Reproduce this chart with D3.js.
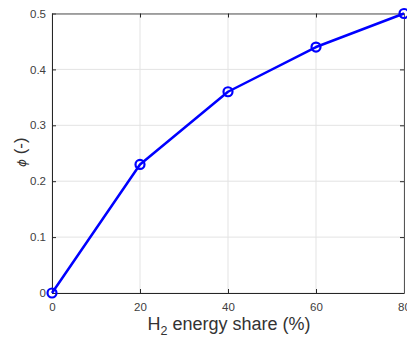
<!DOCTYPE html>
<html>
<head>
<meta charset="utf-8">
<script src="https://cdn.jsdelivr.net/npm/d3@7"></script>
<style>
  body { margin: 0; background: #fff; }
  svg { display: block; font-family: Helvetica, Arial, "Liberation Sans", sans-serif; }
</style>
</head>
<body>
<svg id="chart" width="407" height="338"></svg>
<script>
let WIDTH = 407, HEIGHT = 338;
let M = { top: 13.5, right: 3, bottom: 45, left: 52 };

// data
let shares = [0, 20, 40, 60, 80];
let phi = [0, 0.23, 0.36, 0.44, 0.5];
let xTicks = [0, 20, 40, 60, 80];
let yTicks = [0, 0.1, 0.2, 0.3, 0.4, 0.5];

let svg = d3.select("#chart");
let plotW = WIDTH - M.left - M.right;
let plotH = HEIGHT - M.top - M.bottom;

let x = d3.scaleLinear().domain([0, 80]).range([M.left, M.left + plotW]);
let y = d3.scaleLinear().domain([0, 0.5]).range([M.top + plotH, M.top]);

// grid
let grid = svg.append("g").attr("stroke", "#e3e3e3").attr("stroke-width", 1);
grid.selectAll("line.gx").data(xTicks).join("line")
    .attr("class", "gx")
    .attr("x1", d => x(d)).attr("x2", d => x(d))
    .attr("y1", M.top).attr("y2", M.top + plotH);
grid.selectAll("line.gy").data(yTicks).join("line")
    .attr("class", "gy")
    .attr("y1", d => y(d)).attr("y2", d => y(d))
    .attr("x1", M.left).attr("x2", M.left + plotW);

// box + axes (inward ticks, matlab style)
let axisColor = "#262626";
let axBottom = svg.append("g").attr("transform", `translate(0,${M.top + plotH})`)
    .call(d3.axisBottom(x).tickValues(xTicks).tickSizeInner(-4).tickSizeOuter(0).tickPadding(10));
let axLeft = svg.append("g").attr("transform", `translate(${M.left},0)`)
    .call(d3.axisLeft(y).tickValues(yTicks).tickFormat(d => d === 0 ? "0" : d3.format(".1f")(d))
        .tickSizeInner(-4).tickSizeOuter(0).tickPadding(6));
let axTop = svg.append("g").attr("transform", `translate(0,${M.top})`)
    .call(d3.axisTop(x).tickValues(xTicks).tickFormat("").tickSizeInner(-4).tickSizeOuter(0));
let axRight = svg.append("g").attr("transform", `translate(${M.left + plotW},0)`)
    .call(d3.axisRight(y).tickValues(yTicks).tickFormat("").tickSizeInner(-4).tickSizeOuter(0));

[axBottom, axLeft, axTop, axRight].forEach(g => {
    g.selectAll("path, line").attr("stroke", axisColor).attr("stroke-width", 1);
    g.selectAll("text").attr("fill", "#404040").attr("font-size", 11.5)
        .attr("font-family", "Helvetica, Arial, 'Liberation Sans', sans-serif");
});
axTop.select("path").attr("stroke", "#555");
axRight.select("path").attr("stroke", "#555");

// line + markers
let pts = shares.map((s, i) => ({ s: s, v: phi[i] }));
svg.append("path").datum(pts)
    .attr("fill", "none").attr("stroke", "#0000ff").attr("stroke-width", 2.5)
    .attr("stroke-linejoin", "round")
    .attr("d", d3.line().x(d => x(d.s)).y(d => y(d.v)));
svg.selectAll("circle.mk").data(pts).join("circle")
    .attr("class", "mk")
    .attr("cx", d => x(d.s)).attr("cy", d => y(d.v)).attr("r", 4.5)
    .attr("fill", "none").attr("stroke", "#0000ff").attr("stroke-width", 2.2);

// labels
let xl = svg.append("text")
    .attr("x", M.left + plotW / 2 + 1).attr("y", HEIGHT - 8)
    .attr("text-anchor", "middle").attr("font-size", 18).attr("fill", "#333");
xl.append("tspan").text("H");
xl.append("tspan").attr("font-size", 12.5).attr("dy", 5).text("2");
xl.append("tspan").attr("dy", -5).text(" energy share (%)");

let yl = svg.append("text")
    .attr("transform", `translate(26,167) rotate(-90)`)
    .attr("text-anchor", "start").attr("font-size", 17).attr("fill", "#333");
yl.append("tspan").attr("font-style", "italic").attr("font-size", 12)
    .attr("font-family", "'DejaVu Sans', sans-serif").text("\u03d5");
yl.append("tspan").text(" (-)");
</script>
</body>
</html>
